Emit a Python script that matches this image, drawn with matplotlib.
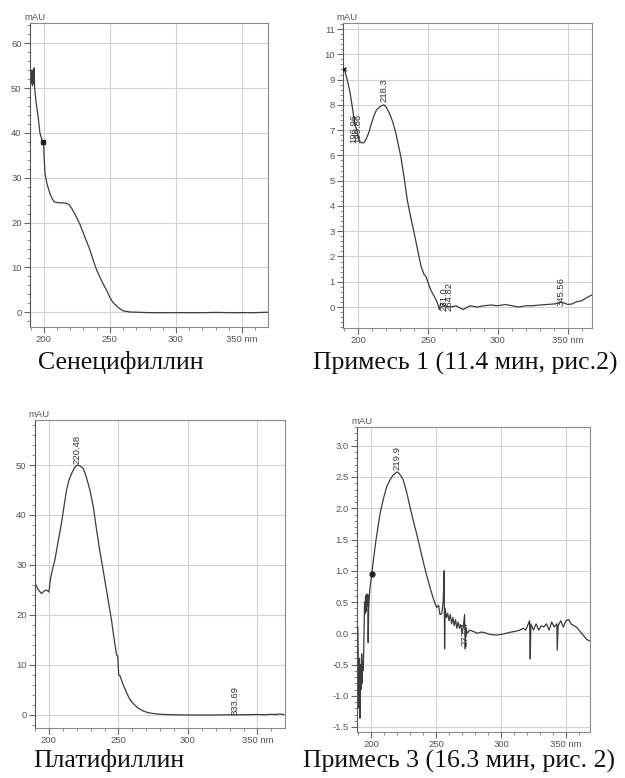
import matplotlib
matplotlib.use("Agg")
import matplotlib.pyplot as plt
from matplotlib.ticker import MultipleLocator, FixedLocator, FixedFormatter

# --- Сенецифиллин ---
sen_nm = [190.5, 191.0, 191.4, 191.8, 192.2, 192.6, 193.0, 194.0, 195.5, 197.0, 198.5, 199.7,
          200.8, 202.5, 204.5, 206.5, 208.0, 211.0, 214.0, 217.0, 219.0, 221.0, 224.0, 227.0,
          231.0, 235.0, 238.0, 240.0, 244.0, 247.5, 250.0, 252.0, 256.0, 260.0, 265.0, 270.0,
          280.0, 290.0, 300.0, 310.0, 320.0, 330.0, 340.0, 350.0, 360.0, 370.0]
sen_mau = [51.0, 54.0, 50.5, 53.5, 51.0, 54.5, 50.0, 47.0, 44.0, 40.0, 38.5, 38.0,
           31.0, 28.5, 26.5, 25.2, 24.6, 24.4, 24.4, 24.3, 24.0, 23.2, 21.6, 19.8,
           16.8, 13.8, 11.0, 9.4, 6.8, 4.9, 3.3, 2.3, 1.1, 0.3, 0.05, 0.0,
           -0.1, -0.1, -0.1, -0.1, -0.1, -0.05, -0.1, -0.1, -0.1, 0.0]

# --- Примесь 1 ---
p1_nm = [190.0, 192.0, 194.0, 196.0, 197.5, 199.0, 200.5, 202.0, 204.0, 206.0, 207.5, 209.0,
         211.0, 213.0, 216.0, 218.3, 220.0, 222.0, 224.5, 226.8, 228.5, 230.4, 233.0, 235.0,
         237.5, 240.0, 242.5, 245.0, 247.0, 248.5, 250.0, 251.0, 253.0, 254.6, 256.0, 257.0,
         258.0, 259.0, 262.0, 266.0, 270.0, 275.0, 280.0, 285.0, 290.0, 295.0, 300.0, 305.0,
         310.0, 315.0, 320.0, 325.0, 330.0, 335.0, 340.0, 343.0, 345.0, 348.0, 350.0, 353.0,
         356.0, 360.0, 363.0, 367.0]
p1_mau = [9.4, 9.0, 8.5, 7.8, 7.2, 7.0, 6.6, 6.5, 6.5, 6.7, 6.9, 7.2,
          7.55, 7.8, 7.95, 8.0, 7.9, 7.7, 7.35, 6.9, 6.45, 5.96, 5.05, 4.25,
          3.55, 2.93, 2.25, 1.6, 1.3, 1.2, 0.95, 0.8, 0.55, 0.4, 0.25, 0.1,
          -0.1, 0.15, 0.05, 0.0, 0.05, -0.1, 0.05, 0.0, 0.05, 0.08, 0.05, 0.1,
          0.05, 0.0, 0.05, 0.05, 0.08, 0.1, 0.12, 0.15, 0.2, 0.15, 0.1, 0.12,
          0.2, 0.25, 0.35, 0.47]

# --- Платифиллин ---
pl_nm = [190.6, 192.5, 194.7, 196.5, 198.3, 200.0, 201.2, 202.5, 204.3, 206.5, 209.0, 211.0,
         212.7, 214.5, 216.3, 218.5, 220.5, 222.5, 224.7, 227.0, 229.5, 232.0, 234.3, 236.5,
         239.0, 242.0, 245.0, 247.0, 248.7, 249.5, 250.2, 251.0, 253.5, 256.0, 258.0, 260.6,
         264.0, 267.8, 271.0, 275.0, 280.0, 290.0, 300.0, 310.0, 320.0, 330.0, 340.0, 350.0,
         355.0, 360.0, 363.0, 366.0, 369.0]
pl_mau = [26.0, 25.0, 24.3, 24.8, 25.0, 24.6, 27.4, 29.0, 31.0, 34.5, 38.3, 42.0,
          45.0, 47.0, 48.3, 49.5, 50.0, 49.8, 49.3, 47.5, 45.0, 41.5, 37.0, 33.0,
          29.0, 24.0, 19.0, 15.0, 12.0, 11.8, 8.0, 7.9, 6.0, 4.4, 3.2, 2.3,
          1.4, 0.8, 0.5, 0.3, 0.15, 0.05, 0.0, 0.0, 0.0, 0.05, 0.05, 0.1,
          0.05, 0.15, 0.1, 0.2, 0.1]

# --- Примесь 3 ---
p3_nm = [189.8, 190.3, 190.7, 191.1, 191.5, 191.9, 192.3, 192.8, 193.2, 193.6, 194.0, 194.5,
         195.0, 195.4, 195.8, 196.2, 196.7, 197.1, 197.5, 197.8, 198.2, 198.6, 199.0, 200.6,
         202.0, 203.8, 205.5, 207.0, 209.5, 212.0, 214.5, 217.0, 219.9, 221.0, 223.0, 224.8,
         227.5, 230.0, 232.5, 235.0, 237.5, 240.0, 242.5, 245.4, 248.0, 250.5, 252.0, 253.0,
         254.4, 255.5, 256.3, 256.6, 257.0, 258.0, 259.0, 260.0, 261.0, 262.0, 263.0, 264.0,
         265.0, 266.0, 267.0, 268.0, 269.0, 270.0, 271.0, 272.0, 272.5, 273.0, 274.0, 276.0,
         278.5, 282.0, 285.0, 288.7, 292.0, 296.4, 300.0, 304.0, 308.0, 311.0, 314.6, 317.0,
         319.0, 321.0, 322.0, 322.5, 323.0, 325.0, 327.0, 329.0, 331.0, 333.0, 335.0, 337.0,
         339.0, 341.0, 343.0, 343.3, 344.0, 346.0, 348.0, 350.0, 352.0, 354.0, 356.0, 358.0,
         360.0, 362.0, 364.0, 366.0, 368.0]
p3_mau = [0.1, -0.6, -1.2, -0.4, -1.36, -0.5, -0.9, -0.33, -0.8, -0.45, -0.6, -0.15,
          0.5, 0.31, 0.6, 0.35, 0.63, 0.45, 0.62, -0.15, 0.4, 0.55, 0.7, 0.95,
          1.2, 1.49, 1.72, 1.92, 2.15, 2.34, 2.45, 2.53, 2.58, 2.57, 2.52, 2.45,
          2.25, 2.02, 1.8, 1.6, 1.38, 1.16, 0.95, 0.73, 0.55, 0.41, 0.45, 0.3,
          0.31, 0.5, 1.0, -0.25, 0.4, 0.25, 0.32, 0.2, 0.3, 0.15, 0.25, 0.12,
          0.22, 0.08, 0.18, 0.08, 0.14, 0.0, 0.1, 0.3, -0.25, 0.1, 0.0, 0.05,
          0.03, 0.0, 0.02, 0.0, -0.02, -0.03, -0.02, 0.0, 0.02, 0.03, 0.05, 0.08,
          0.05, 0.15, 0.2, -0.41, 0.15, 0.05, 0.15, 0.05, 0.12, 0.1, 0.15, 0.05,
          0.18, 0.1, 0.15, -0.27, 0.12, 0.2, 0.1, 0.2, 0.22, 0.15, 0.12, 0.1,
          0.05, 0.0, -0.05, -0.1, -0.12]

# Peak annotations: (label, wavelength, baseline of the rotated text)
sen_peaks = []
p1_peaks = [("218.3", 218.3, 8.1), ("196.96", 196.96, 6.5), ("199.86", 199.86, 6.5),
            ("261.0", 261.0, -0.15), ("264.82", 264.82, -0.15), ("345.56", 345.56, 0.05)]
pl_peaks = [("220.48", 220.48, 50.3), ("333.69", 333.69, 0.0)]
p3_peaks = [("219.9", 219.9, 2.62), ("272.4", 272.4, -0.2)]

x_major = [200, 250, 300, 350]
x_labels = ["200", "250", "300", "350 nm"]

captions = ["Сенецифиллин", "Примесь 1 (11.4 мин, рис.2)",
            "Платифиллин", "Примесь 3 (16.3 мин, рис. 2)"]

W, H = 625, 778
fig = plt.figure(figsize=(W / 100, H / 100), dpi=100)

TICK_FONT = dict(family="Liberation Sans", size=6.8, color="#555555")
LINE_COLOR = "#3c3c3c"
GRID_COLOR = "#d2d2d2"
FRAME_COLOR = "#8a8a8a"


def px_rect(left, top, right, bottom):
    return [left / W, 1 - bottom / H, (right - left) / W, (bottom - top) / H]


def spectrum(rect, nm, mau, xlim, ylim, ymajor, yminor, yfmt, peaks, markers=()):
    ax = fig.add_axes(rect)
    ax.plot(nm, mau, color=LINE_COLOR, lw=0.9, solid_joinstyle="round", zorder=3)
    for mx, my, mk in markers:
        ax.plot([mx], [my], marker=mk, color="#222222", ms=3.5, mew=1.0, zorder=4)
    ax.set_xlim(*xlim)
    ax.set_ylim(*ylim)
    ax.xaxis.set_major_locator(FixedLocator(x_major))
    ax.xaxis.set_major_formatter(FixedFormatter(x_labels))
    ax.xaxis.set_minor_locator(MultipleLocator(10))
    ax.yaxis.set_major_locator(MultipleLocator(ymajor))
    ax.yaxis.set_minor_locator(MultipleLocator(yminor))
    ax.yaxis.set_major_formatter(plt.FuncFormatter(lambda v, p: yfmt.format(v)))
    ax.grid(True, which="major", color=GRID_COLOR, lw=0.8, zorder=0)
    ax.tick_params(which="major", length=4, width=0.8, color="#666666", pad=2)
    ax.tick_params(which="minor", length=2.2, width=0.6, color="#777777")
    for lab in ax.get_xticklabels() + ax.get_yticklabels():
        lab.set_fontfamily(TICK_FONT["family"])
        lab.set_fontsize(TICK_FONT["size"])
        lab.set_color(TICK_FONT["color"])
    for side, sp in ax.spines.items():
        sp.set_color(FRAME_COLOR)
        sp.set_linewidth(0.8)
    ax.spines["left"].set_color("#555555")
    ax.text(-0.025, 1.002, "mAU", transform=ax.transAxes, ha="left", va="bottom",
            fontfamily=TICK_FONT["family"], fontsize=6.8, color="#555555")
    for text, x, y in peaks:
        ax.text(x, y, text, rotation=90, ha="center", va="bottom",
                fontfamily="Liberation Sans", fontsize=6.8, color="#333333", zorder=5)
    return ax


spectrum(px_rect(30, 23, 268, 327), sen_nm, sen_mau, (189.5, 369.7), (-3.3, 64.5),
         10, 2, "{:.0f}", sen_peaks, markers=[(199.7, 38.0, "s")])
spectrum(px_rect(343, 23, 592, 328), p1_nm, p1_mau, (189.0, 367.4), (-0.83, 11.24),
         1, 0.2, "{:.0f}", p1_peaks, markers=[(190.0, 9.4, "x")])
spectrum(px_rect(35, 420, 285, 728), pl_nm, pl_mau, (190.0, 369.8), (-2.6, 59.0),
         10, 2, "{:.0f}", pl_peaks)
spectrum(px_rect(357, 427, 590, 732), p3_nm, p3_mau, (189.2, 368.5), (-1.58, 3.3),
         0.5, 0.1, "{:.1f}", p3_peaks, markers=[(200.6, 0.95, "o")])

caption_pos = [(38, 363), (313, 363), (33, 761), (303, 761)]
for (cx, cy), cap in zip(caption_pos, captions):
    fig.text(cx / W, 1 - cy / H, cap, ha="left", va="center",
             fontfamily="Liberation Serif", fontsize=18.5, color="#111111")

fig.savefig("out.png", dpi=100, facecolor="white")
